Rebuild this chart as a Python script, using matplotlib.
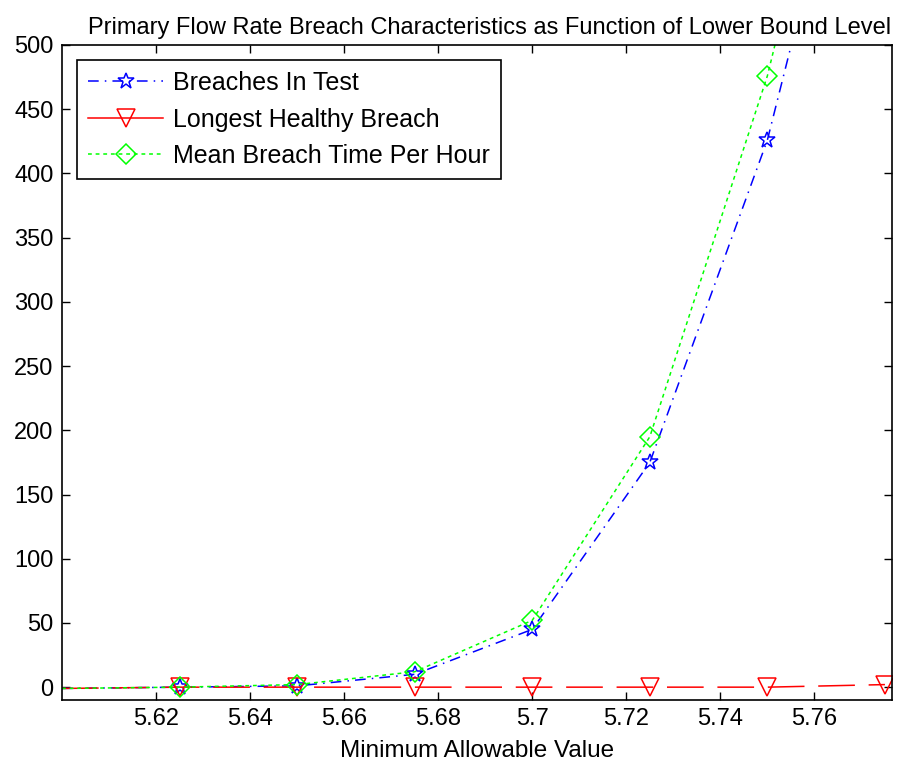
import matplotlib
matplotlib.use("Agg")
import matplotlib.pyplot as plt
from matplotlib.lines import Line2D

plt.rcParams['font.family'] = ['Liberation Sans', 'DejaVu Sans']

x = [5.600, 5.625, 5.650, 5.675, 5.700, 5.725, 5.750, 5.775]
breaches = [-1, 0, 1, 10, 45, 175, 426, 790]
longest = [-1, 0, 0, 0, 0, 0, 0, 2]
mean_time = [-1, 0, 2, 12, 52, 195, 476, 850]
labels = ['Breaches In Test', 'Longest Healthy Breach', 'Mean Breach Time Per Hour']
xticks = [5.62, 5.64, 5.66, 5.68, 5.70, 5.72, 5.74, 5.76]
xticklabels = ['5.62', '5.64', '5.66', '5.68', '5.7', '5.72', '5.74', '5.76']
yticks = [0, 50, 100, 150, 200, 250, 300, 350, 400, 450, 500]

fig = plt.figure(figsize=(8.98, 7.67), dpi=100)
ax = fig.add_axes([62/898, 1-700/767, (892-62)/898, (700-45)/767])

mk = list(range(1, len(x)))
blue_ls = (0, (7, 4, 1, 4))
green_ls = (0, (2.5, 2.5))
common = dict(lw=1.1, markerfacecolor='none', markeredgewidth=1.1, markevery=mk)
ax.plot(x, breaches, color='#0000ff', linestyle=blue_ls, marker='*', markersize=12, **common)
ax.plot(x, longest, color='#ff0000', linestyle=(0, (24, 9)), marker='v', markersize=13, **common)
ax.plot(x, mean_time, color='#00ff00', linestyle=green_ls, marker='D', markersize=10, **common)

ax.set_xlim(5.6, 5.7765)
ax.set_ylim(-10, 500)
ax.set_xticks(xticks)
ax.set_xticklabels(xticklabels)
ax.set_yticks(yticks)
ax.tick_params(direction='in', length=6, width=1, labelsize=17, top=True, right=True, pad=6)
for s in ax.spines.values():
    s.set_linewidth(1.2)

ax.set_title('Primary Flow Rate Breach Characteristics as Function of Lower Bound Level',
             fontsize=17, pad=8, x=0.515)
ax.set_xlabel('Minimum Allowable Value', fontsize=17.5, labelpad=7)

handles = [
    Line2D([], [], color='#0000ff', linestyle=blue_ls, lw=1.1, marker='*', markersize=12,
           markerfacecolor='none', markeredgewidth=1.1),
    Line2D([], [], color='#ff0000', linestyle='-', lw=1.1, marker='v', markersize=13,
           markerfacecolor='none', markeredgewidth=1.1),
    Line2D([], [], color='#00ff00', linestyle=green_ls, lw=1.1, marker='D', markersize=10,
           markerfacecolor='none', markeredgewidth=1.1),
]
leg = ax.legend(handles, labels, loc='upper left', fontsize=18, frameon=True, fancybox=False,
                edgecolor='black', handlelength=3, handletextpad=0.4, borderaxespad=0.6,
                labelspacing=0.5, borderpad=0.45)
leg.get_frame().set_linewidth(1.2)
leg.get_frame().set_alpha(1)

fig.savefig('out.png', dpi=100)
